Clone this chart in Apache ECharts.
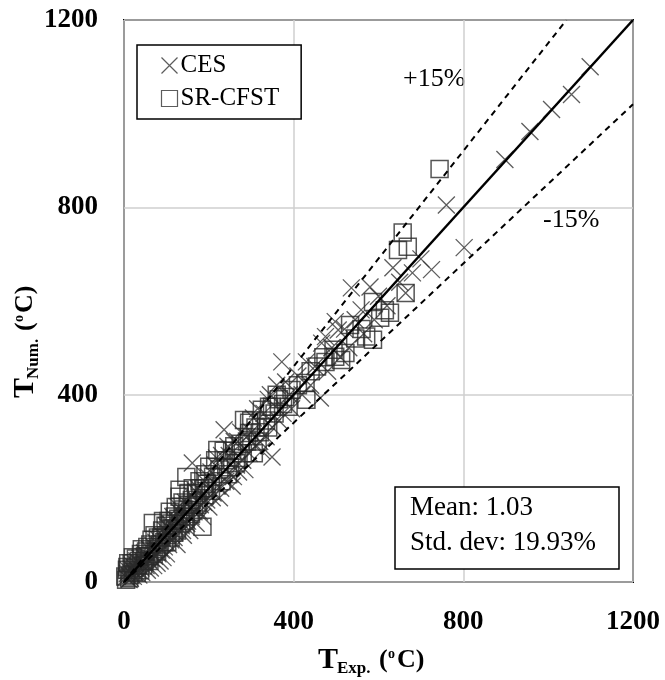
<!DOCTYPE html>
<html><head><meta charset="utf-8">
<script src="https://cdn.jsdelivr.net/npm/echarts@6/dist/echarts.min.js"></script>
<style>html,body{margin:0;padding:0;background:#fff}#c{width:665px;height:680px}</style>
</head><body><div id="c"></div>
<script>
var axisTicks = [0, 400, 800, 1200];
var cesData = [
[5,10],[10,25],[15,8],[20,35],[25,20],[30,45],[35,15],[40,30],[45,55],[50,40],[55,25],[60,70],[65,50],[70,35],[75,85],[80,60],[85,45],[90,100],[95,75],[100,60],[100,120],
[8,18],[12,5],[18,28],[22,12],[28,38],[33,25],[38,50],[42,20],[48,62],[52,35],[58,48],[62,30],[68,78],[72,55],[78,40],[82,90],[88,68],[92,52],[98,110],
[105,80],[108,125],[118,95],[128,160],[138,110],[148,125],[158,140],[168,195],[178,150],[188,170],[198,225],
[110,90],[115,140],[120,105],[125,80],[130,150],[135,120],[140,100],[145,170],[150,130],[155,110],[160,185],[165,150],[170,125],[175,200],[180,165],[185,140],[190,215],[195,175],[200,160],[161,254],
[208,180],[218,265],[228,200],[248,270],[258,225],[268,300],[285,240],[300,320],[325,280],[345,400],
[205,235],[210,190],[215,250],[220,205],[225,180],[230,270],[236,325],[240,215],[245,290],[250,230],[255,205],[260,300],[265,250],[270,235],[275,320],[280,260],[290,310],[295,275],
[305,350],[310,290],[315,370],[320,300],[330,360],[335,310],[340,390],[349,267],[350,330],[360,420],[365,345],[372,470],[375,360],[381,427],[390,400],[395,370],
[410,440],[420,400],[430,470],[440,420],[450,460],[463,393],[466,510],[475,524],[480,450],[490,500],[498,556],[505,538],[510,480],[520,540],[530,500],[536,628],[545,560],[559,581],[565,530],[580,630],[590,560],[600,610],
[620,590],[634,671],[650,640],[664,617],[680,660],[700,690],[725,667],[760,805],[802,714],
[898,902],[957,962],[1008,1009],[1055,1041],[1099,1100]
];
var srcfstData = [
[5,5],[7,26],[10,40],[15,15],[21,53],[25,30],[30,20],[35,45],[40,60],[45,35],[50,55],[55,75],[60,45],[65,90],[68,126],[70,60],[75,70],[80,95],[85,80],[90,110],[95,85],[100,100],
[3,12],[8,32],[12,8],[18,40],[22,22],[28,50],[32,35],[38,25],[42,70],[48,45],[52,65],[58,55],[62,80],[72,100],[78,65],[82,75],[88,95],[92,130],[98,120],
[102,85],[108,150],[112,125],[118,105],[122,160],[128,135],[138,170],[142,130],[152,190],[158,145],[162,200],[172,165],[178,215],[188,200],[192,230],
[105,130],[110,95],[115,115],[120,140],[125,110],[131,182],[131,197],[135,125],[140,155],[145,140],[147,224],[150,165],[155,150],[160,175],[165,160],[170,190],[175,170],[180,200],[185,118],[190,185],[195,210],[201,246],
[205,195],[215,260],[235,280],[245,230],[260,290],[280,275],[300,345],[315,300],[340,330],[360,400],[380,395],
[210,225],[220,282],[225,240],[230,215],[240,260],[250,245],[255,280],[264,254],[270,265],[275,295],[283,346],[290,300],[295,318],[295,340],
[306,275],[310,330],[320,320],[325,368],[335,345],[342,374],[349,374],[355,360],[365,390],[375,380],[388,374],[395,410],
[410,420],[428,425],[430,389],[440,450],[455,460],[470,480],[475,470],[494,496],[498,481],[512,474],[522,489],[533,549],[545,520],[560,540],[571,524],[587,517],[587,598],[604,564],[615,580],[627,575],
[646,709],[657,746],[664,617],[669,716],[744,882]
];
var lineEqual = [[0,0],[1200,1200]];
var linePlus15 = [[0,0],[1043,1200]];
var lineMinus15 = [[0,0],[1200,1020]];
var seriesNames = ['CES', 'SR-CFST'];
var statsText = ['Mean: 1.03', 'Std. dev: 19.93%'];

var serif = '"Liberation Serif","DejaVu Serif",serif';
var crossPath = 'path://M0,0L10,10M10,0L0,10';
var chart = echarts.init(document.getElementById('c'), null, {renderer:'canvas'});
chart.setOption({
  animation:false,
  backgroundColor:'#fff',
  grid:{left:124,right:32,top:20,bottom:98,show:true,borderColor:'#000',borderWidth:2,backgroundColor:'transparent'},
  xAxis:{type:'value',min:0,max:1200,interval:400,
    axisLine:{show:false},axisTick:{show:false},
    splitLine:{lineStyle:{color:'#cfcfcf',width:1.5}},
    axisLabel:{fontFamily:serif,fontWeight:'bold',fontSize:27,color:'#000',margin:27,
      formatter:function(v){return String(v);}}},
  yAxis:{type:'value',min:0,max:1200,interval:400,
    axisLine:{show:false},axisTick:{show:false},
    splitLine:{lineStyle:{color:'#cfcfcf',width:1.5}},
    axisLabel:{fontFamily:serif,fontWeight:'bold',fontSize:27,color:'#000',margin:26,
      formatter:function(v){return String(v);}}},
  legend:{
    left:137,top:45,orient:'vertical',
    borderColor:'#000',borderWidth:1.5,backgroundColor:'#fff',
    padding:[8,22,8,22],itemGap:8,itemWidth:16,itemHeight:16,
    textStyle:{fontFamily:serif,fontSize:25,color:'#000',padding:[0,0,0,-2]},
    data:[
      {name:seriesNames[0],icon:crossPath,itemStyle:{color:'none',borderColor:'#333',borderWidth:1.2}},
      {name:seriesNames[1],icon:'rect',itemStyle:{color:'none',borderColor:'#333',borderWidth:1.2}}
    ]
  },
  series:[
    {name:seriesNames[0],type:'scatter',data:cesData,symbol:crossPath,symbolSize:17,
      itemStyle:{color:'none',borderColor:'#333',borderWidth:1.3},z:2},
    {name:seriesNames[1],type:'scatter',data:srcfstData,symbol:'rect',symbolSize:17,
      itemStyle:{color:'none',borderColor:'#2a2a2a',borderWidth:1.5},z:2},
    {type:'line',data:lineEqual,symbol:'none',lineStyle:{color:'#000',width:2.5},z:3,silent:true},
    {type:'line',data:linePlus15,symbol:'none',lineStyle:{color:'#000',width:2,type:[6,5]},z:3,silent:true},
    {type:'line',data:lineMinus15,symbol:'none',lineStyle:{color:'#000',width:2,type:[6,5]},z:3,silent:true}
  ],
  graphic:[
    {type:'text',left:403,top:66,style:{text:'+15%',font:'26px '+serif,fill:'#000'}},
    {type:'text',left:543,top:207,style:{text:'-15%',font:'26px '+serif,fill:'#000'}},
    {type:'rect',shape:{x:395,y:487,width:224,height:82},style:{fill:'#fff',stroke:'#000',lineWidth:1.5},z:10},
    {type:'text',x:410,y:494,style:{text:statsText[0],font:'27px '+serif,fill:'#000'},z:11},
    {type:'text',x:410,y:529,style:{text:statsText[1],font:'27px '+serif,fill:'#000'},z:11},
    // x axis title
    {type:'group',x:318,y:645,z:11,children:[
      {type:'text',x:0,y:0,style:{text:'T',font:'bold 30px '+serif,fill:'#000'}},
      {type:'text',x:19,y:15,style:{text:'Exp.',font:'bold 17px '+serif,fill:'#000'}},
      {type:'text',x:61,y:2,style:{text:'(',font:'bold 26px '+serif,fill:'#000'}},
      {type:'text',x:70,y:2,style:{text:'o',font:'bold 14px '+serif,fill:'#000'}},
      {type:'text',x:79,y:2,style:{text:'C)',font:'bold 26px '+serif,fill:'#000'}}
    ]},
    // y axis title
    {type:'group',x:10,y:398,rotation:Math.PI/2,z:11,children:[
      {type:'text',x:0,y:0,style:{text:'T',font:'bold 30px '+serif,fill:'#000'}},
      {type:'text',x:19,y:15,style:{text:'Num.',font:'bold 17px '+serif,fill:'#000'}},
      {type:'text',x:67,y:2,style:{text:'(',font:'bold 26px '+serif,fill:'#000'}},
      {type:'text',x:76,y:2,style:{text:'o',font:'bold 14px '+serif,fill:'#000'}},
      {type:'text',x:85,y:2,style:{text:'C)',font:'bold 26px '+serif,fill:'#000'}}
    ]}
  ]
});
</script></body></html>
